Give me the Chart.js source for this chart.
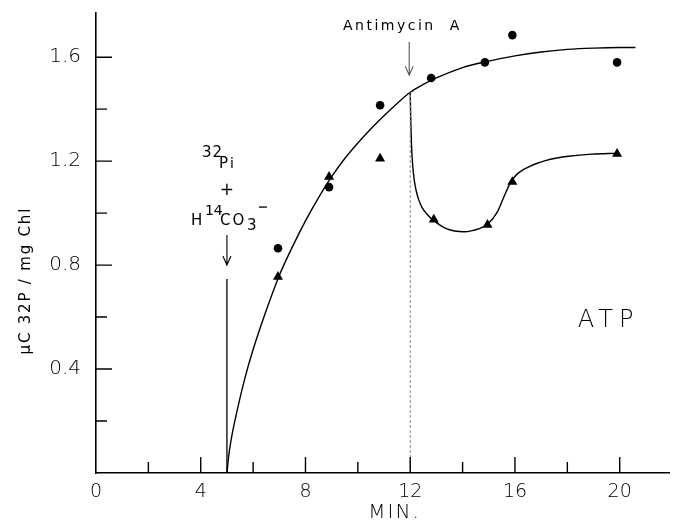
<!DOCTYPE html>
<html lang="en">
<head>
  <meta charset="UTF-8">
  <title>ATP labelling after Antimycin A</title>
  <script src="https://cdn.jsdelivr.net/npm/chart.js"></script>
  <style>
    body {
      margin: 0;
      background: #fff;
    }
    canvas {
      display: block;
    }
  </style>
</head>
<body>

  <canvas id="atpChart" width="675" height="527"></canvas>

  <script>
    const circleX = [6.95, 8.9, 10.85, 12.8, 14.85, 15.9, 19.9];
    const circleY = [0.865, 1.10, 1.415, 1.52, 1.58, 1.685, 1.58];
    const triangleX = [6.95, 8.9, 10.85, 12.9, 14.95, 15.9, 19.9];
    const triangleY = [0.755, 1.14, 1.21, 0.975, 0.955, 1.12, 1.228];

    // fitted curve (control)
    const upperX = [5, 5.05, 5.1, 5.2, 5.4, 5.7, 6, 6.5, 7, 7.5, 8, 8.5, 9, 9.5, 10, 10.5, 11, 11.5, 12, 12.5, 13, 14, 15, 16, 17, 18, 19, 20, 20.6];
    const upperY = [0, 0.05, 0.09, 0.15, 0.245, 0.37, 0.475, 0.625, 0.76, 0.87, 0.97, 1.06, 1.14, 1.21, 1.27, 1.325, 1.375, 1.422, 1.465, 1.495, 1.52, 1.56, 1.585, 1.605, 1.62, 1.63, 1.635, 1.637, 1.637];

    // curve after antimycin A
    const lowerX = [12, 12.02, 12.05, 12.09, 12.15, 12.23, 12.33, 12.46, 12.65, 12.88, 13.38, 14.06, 14.63, 14.96, 15.33, 15.58, 15.84, 15.95, 16.1, 16.3, 16.53, 16.8, 17.16, 17.6, 18.04, 18.93, 19.87];
    const lowerY = [1.465, 1.36, 1.26, 1.19, 1.13, 1.085, 1.05, 1.02, 0.995, 0.973, 0.94, 0.928, 0.94, 0.958, 1.005, 1.063, 1.12, 1.135, 1.152, 1.166, 1.178, 1.19, 1.202, 1.212, 1.219, 1.227, 1.23];

    // ticks
    const xMajor = [0, 4, 8, 12, 16, 20];
    const xMinor = [2, 6, 10, 14, 18];
    const yMajor = [0.4, 0.8, 1.2, 1.6];
    const yMinor = [0.2, 0.6, 1.0, 1.4];

    const FONT = '"DejaVu Sans", sans-serif';
    const INK = '#000';

    const pts = (xs, ys) => xs.map((x, i) => ({ x: x, y: ys[i] }));
    const near = (list, v) => list.some(m => Math.abs(m - v) < 1e-6);

    // inward ticks, arrows and the hand lettering
    const overlay = {
      id: 'overlay',
      afterDraw(chart) {
        const ctx = chart.ctx;
        const xs = chart.scales.x, ys = chart.scales.y;
        const left = chart.chartArea.left, bottom = chart.chartArea.bottom;

        ctx.save();
        ctx.strokeStyle = INK;
        ctx.lineWidth = 1.4;
        ctx.beginPath();
        xMajor.concat(xMinor).forEach(v => {
          if (v === 0) return;
          const px = xs.getPixelForValue(v);
          const len = xMajor.includes(v) ? 16 : 11;
          ctx.moveTo(px, bottom);
          ctx.lineTo(px, bottom - len);
        });
        yMajor.concat(yMinor).forEach(v => {
          const py = ys.getPixelForValue(v);
          const len = yMajor.includes(v) ? 16 : 11;
          ctx.moveTo(left, py);
          ctx.lineTo(left + len, py);
        });
        ctx.stroke();

        function arrow(x, y1, y2, color) {
          ctx.strokeStyle = color;
          ctx.lineWidth = 1.1;
          ctx.beginPath();
          ctx.moveTo(x, y1);
          ctx.lineTo(x, y2);
          ctx.moveTo(x - 4, y2 - 9);
          ctx.lineTo(x, y2);
          ctx.lineTo(x + 4, y2 - 9);
          ctx.stroke();
        }

        function txt(s, x, y, size, align, spacing, weight) {
          ctx.font = (weight || '200') + ' ' + size + 'px ' + FONT;
          ctx.letterSpacing = (spacing || 0) + 'px';
          ctx.textAlign = align || 'left';
          ctx.fillText(s, x, y);
        }

        ctx.fillStyle = INK;
        ctx.textBaseline = 'alphabetic';

        // 32Pi + H14CO3- label over the arrow at 5 min
        const bx = xs.getPixelForValue(5);
        const by = ys.getPixelForValue(0.8);
        txt('32', bx - 25, by - 108, 15, 'left', 1, '400');
        txt('P', bx - 8, by - 97, 15, 'left', 0, '400');
        txt('i', bx + 3, by - 97, 14, 'left', 0, '400');
        txt('+', bx, by - 70, 17, 'center', 0, '400');
        txt('H', bx - 36, by - 40, 15, 'left', 0, '400');
        txt('14', bx - 22, by - 50, 14, 'left', 0, '400');
        txt('CO', bx - 7, by - 40, 15, 'left', 2, '400');
        txt('3', bx + 20, by - 35, 15, 'left', 0, '400');
        ctx.strokeStyle = INK;
        ctx.lineWidth = 1.3;
        ctx.beginPath();
        ctx.moveTo(bx + 32, by - 58);
        ctx.lineTo(bx + 40, by - 58);
        ctx.stroke();
        arrow(bx, by - 30, by, INK);

        // Antimycin A
        const ax = xs.getPixelForValue(12);
        txt('Antimycin  A', xs.getPixelForValue(11.7), ys.getPixelForValue(1.705), 14, 'center', 2.5, '400');
        arrow(ax - 1, ys.getPixelForValue(1.658), ys.getPixelForValue(1.531), '#555');

        // ATP
        txt('ATP', xs.getPixelForValue(18.4), ys.getPixelForValue(0.56), 24, 'left', 6);

        // axis titles
        txt('MIN.', xs.getPixelForValue(11.4), 518, 20, 'center', 2);
        ctx.save();
        ctx.translate(25, ys.getPixelForValue(0.74));
        ctx.rotate(-Math.PI / 2);
        txt('\u03bcC 32P / mg Chl', 0, 5, 15, 'center', 1.8, '400');
        ctx.restore();

        ctx.restore();
      }
    };

    new Chart(document.getElementById('atpChart'), {
      type: 'scatter',
      data: {
        datasets: [
          {
            // vertical line at addition of label
            data: [{ x: 5, y: 0 }, { x: 5, y: 0.746 }],
            showLine: true,
            borderColor: INK,
            borderWidth: 1.3,
            pointRadius: 0
          },
          {
            // dotted marker at antimycin addition
            data: [{ x: 12, y: 0 }, { x: 12, y: 1.465 }],
            showLine: true,
            borderColor: '#888',
            borderWidth: 1,
            borderDash: [3, 2],
            pointRadius: 0
          },
          {
            data: pts(upperX, upperY),
            showLine: true,
            borderColor: INK,
            borderWidth: 1.4,
            cubicInterpolationMode: 'monotone',
            pointRadius: 0
          },
          {
            data: pts(lowerX, lowerY),
            showLine: true,
            borderColor: INK,
            borderWidth: 1.4,
            cubicInterpolationMode: 'monotone',
            pointRadius: 0
          },
          {
            data: pts(circleX, circleY),
            pointStyle: 'circle',
            pointRadius: 4.3,
            backgroundColor: INK,
            borderColor: INK,
            borderWidth: 0
          },
          {
            data: pts(triangleX, triangleY),
            pointStyle: 'triangle',
            pointRadius: 5.8,
            backgroundColor: INK,
            borderColor: INK,
            borderWidth: 0
          }
        ]
      },
      options: {
        responsive: false,
        animation: false,
        layout: {
          padding: { top: 13, right: 0, bottom: 0, left: 0 }
        },
        plugins: {
          legend: { display: false },
          tooltip: { enabled: false }
        },
        scales: {
          x: {
            type: 'linear',
            min: 0,
            max: 21.89,
            grid: { display: false, drawTicks: false },
            border: { display: true, color: INK, width: 1.6 },
            ticks: {
              stepSize: 2,
              includeBounds: false,
              autoSkip: false,
              maxRotation: 0,
              padding: 8,
              color: INK,
              font: { family: FONT, size: 19, weight: '200' },
              callback: v => near(xMajor, v) ? String(Math.round(v)) : null
            },
            afterFit(s) {
              s.height = 54;
              s.paddingLeft = 0;
              s.paddingRight = 0;
            }
          },
          y: {
            type: 'linear',
            min: 0,
            max: 1.77,
            grid: { display: false, drawTicks: false },
            border: { display: true, color: INK, width: 1.6 },
            ticks: {
              stepSize: 0.2,
              includeBounds: false,
              autoSkip: false,
              padding: 15,
              color: INK,
              font: { family: FONT, size: 20, weight: '200' },
              callback: v => near(yMajor, v) ? v.toFixed(1) : null
            },
            afterFit(s) {
              s.width = 96;
              s.paddingTop = 0;
              s.paddingBottom = 0;
            }
          }
        }
      },
      plugins: [overlay]
    });
  </script>

</body>
</html>
